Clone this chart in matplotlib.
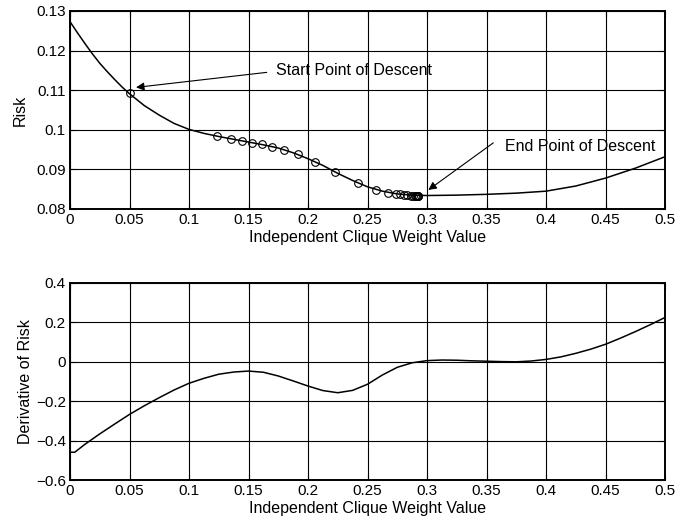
import numpy as np
import matplotlib.pyplot as plt

plt.rcParams['font.family'] = ['Liberation Sans', 'DejaVu Sans']

# risk curve samples
risk_x = [0, 0.00625, 0.0125, 0.01875, 0.025, 0.03125, 0.0375, 0.04375, 0.05, 0.0625,
          0.075, 0.0875, 0.1, 0.1125, 0.125, 0.1375, 0.15, 0.1625, 0.175, 0.1875,
          0.2, 0.2125, 0.225, 0.2375, 0.25, 0.2625, 0.275, 0.2875, 0.3, 0.325,
          0.35, 0.375, 0.4, 0.425, 0.45, 0.475, 0.5]
risk_y = [0.1273, 0.1245, 0.1218, 0.1192, 0.1168, 0.1147, 0.1127, 0.1108, 0.1091, 0.1061,
          0.1037, 0.1016, 0.1001, 0.0991, 0.0983, 0.0976, 0.0969, 0.0962, 0.0954, 0.0942,
          0.0927, 0.0910, 0.0890, 0.0872, 0.0856, 0.0845, 0.0838, 0.0835, 0.0834, 0.0835,
          0.0837, 0.0840, 0.0845, 0.0858, 0.0878, 0.0903, 0.0932]

# gradient descent iterates
desc_x = [0.05, 0.1238, 0.1353, 0.1445, 0.1529, 0.1611, 0.1700, 0.1801, 0.1916, 0.2059,
          0.2231, 0.2418, 0.2571, 0.2672, 0.2737, 0.2773, 0.2807, 0.2835, 0.2863, 0.2885,
          0.2900, 0.2910, 0.2918, 0.2923, 0.2926, 0.2928]
desc_y = [0.1092, 0.0984, 0.0977, 0.0972, 0.0967, 0.0963, 0.0957, 0.0950, 0.0938, 0.0919,
          0.0893, 0.0866, 0.0848, 0.0841, 0.0838, 0.0837, 0.0836, 0.0835, 0.0834, 0.0834,
          0.0833, 0.0833, 0.0833, 0.0833, 0.0833, 0.0833]

# derivative curve samples
deriv_x = [0, 0.004, 0.0125, 0.025, 0.0375, 0.05, 0.0625, 0.075, 0.0875, 0.1, 0.1125,
           0.125, 0.1375, 0.15, 0.1625, 0.175, 0.1875, 0.2, 0.2125, 0.225, 0.2375,
           0.25, 0.2625, 0.275, 0.2875, 0.3, 0.3125, 0.325, 0.3375, 0.35, 0.3625,
           0.375, 0.3875, 0.4, 0.4125, 0.425, 0.4375, 0.45, 0.4625, 0.475, 0.4875, 0.5]
deriv_y = [-0.459, -0.459, -0.419, -0.366, -0.316, -0.267, -0.223, -0.182, -0.143, -0.109, -0.084,
           -0.063, -0.052, -0.047, -0.053, -0.072, -0.097, -0.123, -0.146, -0.157, -0.145,
           -0.114, -0.067, -0.028, -0.005, 0.006, 0.009, 0.008, 0.005, 0.003, 0.001,
           0.0, 0.004, 0.012, 0.025, 0.043, 0.064, 0.089, 0.12, 0.153, 0.188, 0.225]

xticks = [0, 0.05, 0.1, 0.15, 0.2, 0.25, 0.3, 0.35, 0.4, 0.45, 0.5]
xtick_labels = ['0', '0.05', '0.1', '0.15', '0.2', '0.25', '0.3', '0.35', '0.4', '0.45', '0.5']
risk_ticks = [0.08, 0.09, 0.1, 0.11, 0.12, 0.13]
risk_labels = ['0.08', '0.09', '0.1', '0.11', '0.12', '0.13']
deriv_ticks = [-0.6, -0.4, -0.2, 0, 0.2, 0.4]
deriv_labels = ['\u22120.6', '\u22120.4', '\u22120.2', '0', '0.2', '0.4']

fig = plt.figure(figsize=(6.77, 5.23), dpi=100)
ax1 = fig.add_axes([0.1034, 0.6004, 0.8789, 0.3786])
ax2 = fig.add_axes([0.1034, 0.0822, 0.8789, 0.3767])


def style(ax):
    ax.set_xlim(0, 0.5)
    ax.set_xticks(xticks)
    ax.set_xticklabels(xtick_labels)
    ax.grid(True, color='k', linewidth=0.8)
    ax.set_axisbelow(True)
    ax.tick_params(direction='in', top=True, right=True, labelsize=11, length=4, pad=3, width=0.8)
    for s in ax.spines.values():
        s.set_linewidth(1.4)
    ax.set_xlabel('Independent Clique Weight Value', fontsize=11.5, labelpad=2)


ax1.plot(risk_x, risk_y, color='k', lw=1.1)
ax1.plot(desc_x, desc_y, linestyle='none', marker='o', markersize=5.5,
         markerfacecolor='none', markeredgecolor='k', markeredgewidth=0.8)
ax1.set_ylim(0.08, 0.13)
ax1.set_yticks(risk_ticks)
ax1.set_yticklabels(risk_labels)
style(ax1)
ax1.set_ylabel('Risk', fontsize=11.5, labelpad=6)

arrow = dict(arrowstyle='-|>', color='k', lw=0.8, mutation_scale=12, shrinkA=0, shrinkB=0)
ax1.annotate('', xy=(0.0555, 0.1107), xytext=(0.1653, 0.1145), arrowprops=arrow)
ax1.text(0.173, 0.1149, 'Start Point of Descent', fontsize=11.5, va='center', ha='left')
ax1.annotate('', xy=(0.3011, 0.0848), xytext=(0.3557, 0.0967), arrowprops=arrow)
ax1.text(0.3655, 0.0959, 'End Point of Descent', fontsize=11.5, va='center', ha='left')

ax2.plot(deriv_x, deriv_y, color='k', lw=1.1)
ax2.set_ylim(-0.6, 0.4)
ax2.set_yticks(deriv_ticks)
ax2.set_yticklabels(deriv_labels)
style(ax2)
ax2.set_ylabel('Derivative of Risk', fontsize=11.5, labelpad=2)

fig.savefig('out.png', dpi=100)
